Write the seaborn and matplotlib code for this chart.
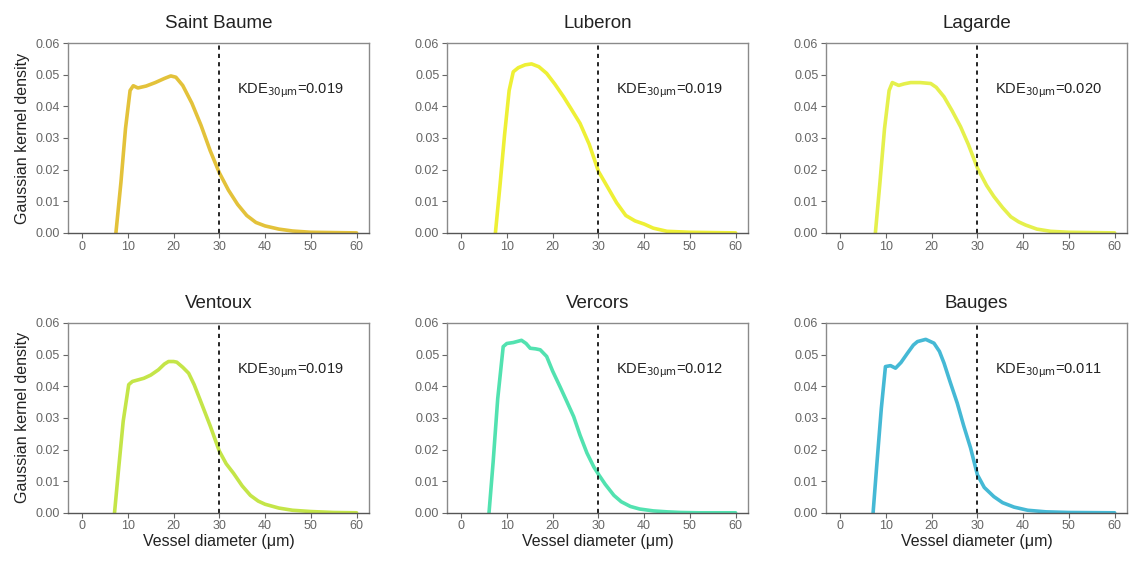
import matplotlib
matplotlib.use("Agg")
import matplotlib.pyplot as plt
import seaborn as sns

# Sites and annotation values
sites = ["Saint Baume", "Luberon", "Lagarde", "Ventoux", "Vercors", "Bauges"]
kde30 = ["0.019", "0.019", "0.020", "0.019", "0.012", "0.011"]
colors = ["#E3C23A", "#EEF035", "#E5F04C", "#C4E548", "#52E2B0", "#45B9D5"]

# Curves (vessel diameter in µm, density)
sb_x = [7.4, 8.5, 9.5, 10.5, 11.2, 12.2, 14, 16, 18, 19.4, 20.5, 22, 24, 26, 28, 30,
        32, 34, 36, 38, 40, 43, 46, 50, 55, 60]
sb_y = [0, 0.016, 0.033, 0.045, 0.0465, 0.0458, 0.0464, 0.0475, 0.0488, 0.0496, 0.0492,
        0.0466, 0.041, 0.034, 0.026, 0.019, 0.0135, 0.009, 0.0055, 0.0033, 0.0022,
        0.0012, 0.0006, 0.0002, 0.0001, 0.0]

lu_x = [7.5, 8.5, 9.5, 10.5, 11.4, 12.5, 14, 15.4, 17, 18.7, 20.5, 22.4, 24, 26, 28, 30,
        32, 34, 36, 38, 40, 42, 45, 50, 55, 60]
lu_y = [0, 0.015, 0.031, 0.045, 0.0509, 0.0522, 0.0531, 0.0534, 0.0525, 0.0504, 0.047,
        0.043, 0.0393, 0.0346, 0.028, 0.0195, 0.0145, 0.0095, 0.0055, 0.0038, 0.0028,
        0.0015, 0.0005, 0.0002, 0.0001, 0]

la_x = [7.7, 8.7, 9.7, 10.7, 11.4, 12.8, 14, 15.4, 17.5, 19.8, 21, 22.7, 24.5, 26.3, 28,
        30, 32, 33.6, 35.5, 37.3, 39, 40.5, 43, 46, 50, 55, 60]
la_y = [0, 0.016, 0.033, 0.045, 0.0475, 0.0466, 0.0471, 0.0475, 0.0475, 0.0472, 0.046,
        0.043, 0.0385, 0.0336, 0.028, 0.0205, 0.015, 0.0115, 0.008, 0.0051, 0.0035,
        0.0025, 0.0012, 0.0005, 0.0002, 0.0001, 0]

ve_x = [7.1, 8, 9, 10.2, 11, 13.5, 15, 16.7, 18, 18.9, 20, 20.7, 22, 23.3, 24.5, 25.8,
        28, 30, 31.5, 33.1, 35, 36.8, 38.5, 40, 43, 46, 50, 55, 60]
ve_y = [0, 0.014, 0.029, 0.0405, 0.0415, 0.0425, 0.0435, 0.0452, 0.047, 0.0478, 0.0478,
        0.0476, 0.046, 0.0441, 0.0405, 0.0357, 0.0275, 0.0195, 0.0155, 0.0125, 0.0085,
        0.0055, 0.0037, 0.0027, 0.0015, 0.0008, 0.0004, 0.0001, 0]

vc_x = [6.1, 7, 8, 9.2, 10, 11.4, 13.2, 14.2, 15.1, 16.3, 17.3, 18.7, 20, 21.6, 23, 24.6,
        26, 27.5, 29, 30.1, 31.5, 33.4, 35, 37, 39, 42, 45, 48, 52, 60]
vc_y = [0, 0.016, 0.036, 0.0525, 0.0535, 0.0538, 0.0545, 0.0535, 0.052, 0.0518, 0.0515,
        0.0494, 0.0448, 0.0399, 0.0355, 0.0304, 0.0245, 0.0189, 0.0145, 0.012, 0.009,
        0.0055, 0.0035, 0.002, 0.0012, 0.0006, 0.0003, 0.0001, 0, 0]

ba_x = [7.2, 8, 9, 9.9, 11, 12.1, 13.3, 14.7, 16, 16.9, 18.7, 20.5, 21.7, 22.7, 24, 25.6,
        27, 28.5, 30, 31.5, 33.6, 35.5, 38, 41, 45, 50, 60]
ba_y = [0, 0.015, 0.033, 0.0462, 0.0465, 0.0457, 0.0475, 0.0504, 0.053, 0.0541, 0.0548,
        0.0536, 0.051, 0.0473, 0.0415, 0.0346, 0.0275, 0.0205, 0.012, 0.008, 0.0051,
        0.0032, 0.0018, 0.0008, 0.0003, 0.0001, 0]

curves_x = [sb_x, lu_x, la_x, ve_x, vc_x, ba_x]
curves_y = [sb_y, lu_y, la_y, ve_y, vc_y, ba_y]

sns.set_style("ticks")
plt.rcParams['font.family'] = ['Liberation Sans', 'DejaVu Sans']

fig, axes = plt.subplots(2, 3, figsize=(11.31, 5.66), dpi=100)
fig.subplots_adjust(left=0.060, right=0.9965, top=0.924, bottom=0.094,
                    wspace=0.259, hspace=0.474)

for i, ax in enumerate(axes.flat):
    sns.lineplot(x=curves_x[i], y=curves_y[i], ax=ax, color=colors[i], linewidth=2.6,
                 solid_joinstyle="round", solid_capstyle="round")
    ax.axvline(30, color="black", linestyle=(0, (2.5, 2.5)), linewidth=1.2)
    ax.set_xlim(-3.1, 62.7)
    ax.set_ylim(0, 0.06)
    ax.set_xticks([0, 10, 20, 30, 40, 50, 60])
    ax.set_yticks([0, 0.01, 0.02, 0.03, 0.04, 0.05, 0.06])
    ax.set_yticklabels([f"{v:.2f}" for v in ax.get_yticks()])
    ax.tick_params(labelsize=9, labelcolor="#666666", color="#666666",
                   length=3.5, width=0.8, pad=2)
    for s in ax.spines.values():
        s.set_color("#8a8a8a")
        s.set_linewidth(1.0)
    ax.spines["bottom"].set_color("#555555")
    ax.set_title(sites[i], fontsize=13.5, color="#222222", pad=11)
    ax.text(33.8, 0.0448, "KDE$_{30\\mathrm{\\mu m}}$=" + kde30[i], fontsize=10.5,
            color="#222222", va="center")
    if i % 3 == 0:
        ax.set_ylabel("Gaussian kernel density", fontsize=11.5, color="#222222", labelpad=4)
    else:
        ax.set_ylabel("")
    if i >= 3:
        ax.set_xlabel("Vessel diameter (μm)", fontsize=11.5, color="#222222", labelpad=1)
    else:
        ax.set_xlabel("")

fig.savefig("out.png", dpi=100)
